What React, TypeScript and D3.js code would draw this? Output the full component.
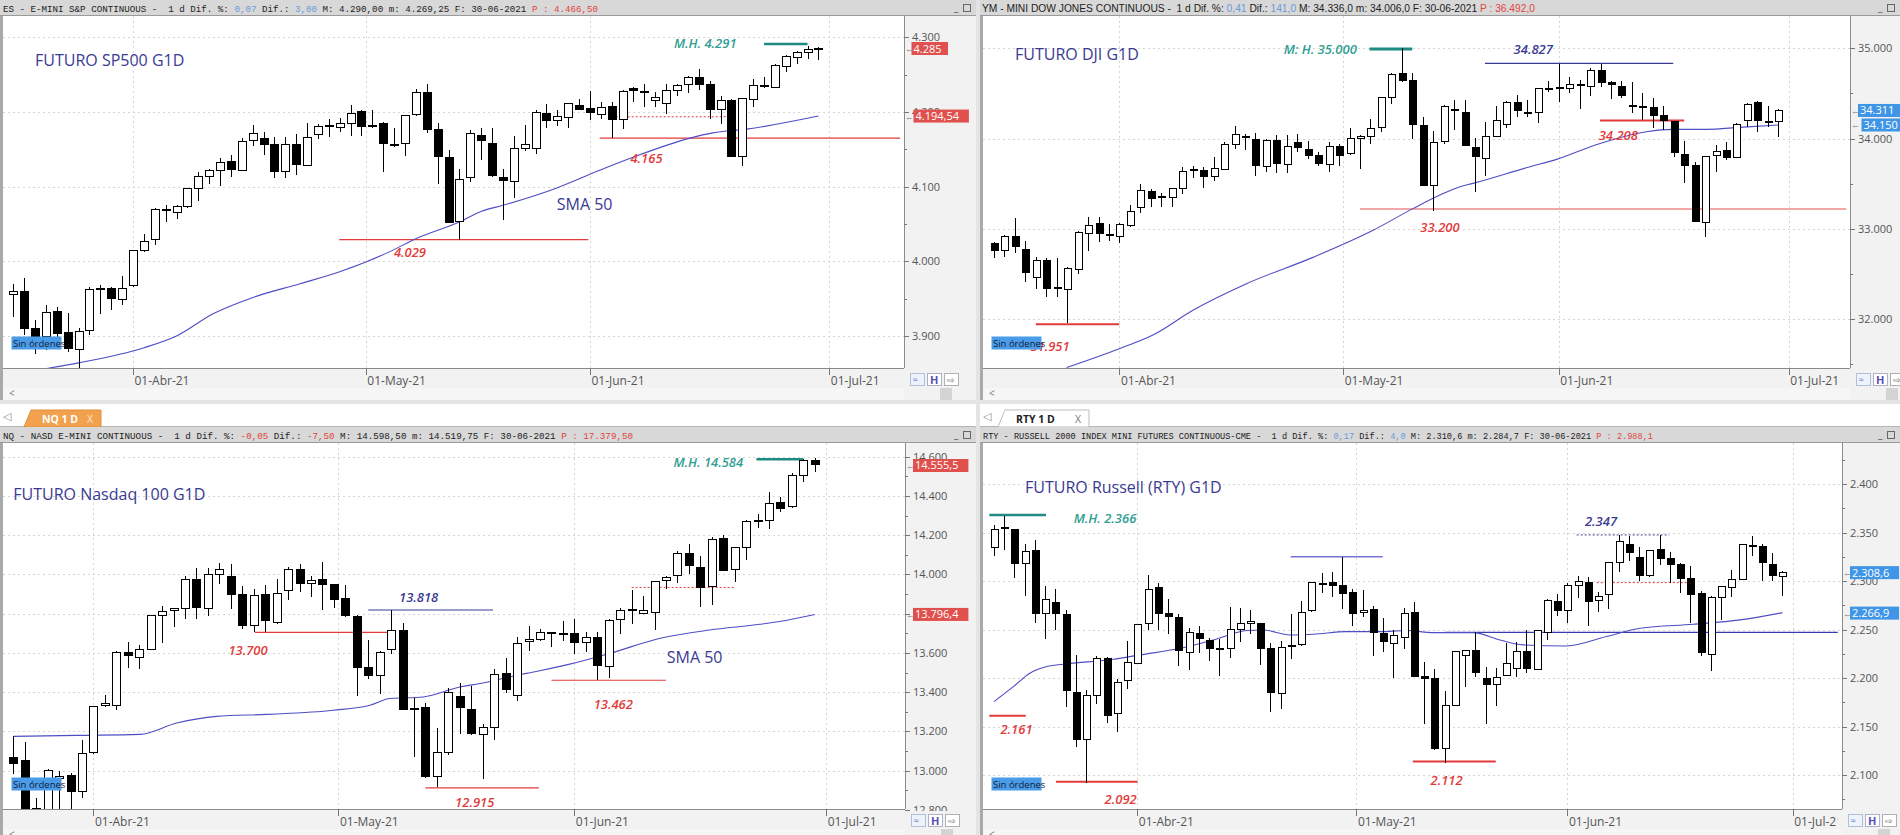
import React from "react";
import * as d3 from "d3";

// ---------------- DATA ----------------
const monthLabels = ["01-Abr-21", "01-May-21", "01-Jun-21", "01-Jul-21"];

// E-mini S&P 500 (ES)
const esOpen = [3956,3960,3910,3900,3933,3905,3882,3908,3962,3964,3949,3967,4014,4029,4069,4065,4073,4097,4113,4121,4134,4122,4162,4165,4156,4120,4157,4128,4170,4181,4179,4184,4200,4182,4184,4157,4158,4197,4226,4176,4139,4053,4112,4169,4158,4112,4107,4151,4151,4198,4188,4192,4209,4205,4197,4207,4190,4232,4227,4215,4212,4229,4237,4246,4237,4203,4215,4141,4217,4236,4233,4261,4273,4280,4284];
const esHigh = [3970,3978,3922,3942,3939,3931,3911,3966,3968,3966,3981,4015,4036,4071,4075,4075,4098,4119,4124,4138,4142,4165,4182,4173,4167,4166,4171,4185,4184,4191,4192,4209,4203,4202,4186,4179,4196,4231,4237,4185,4149,4123,4176,4178,4178,4123,4168,4182,4203,4211,4202,4211,4217,4228,4213,4214,4230,4233,4237,4227,4237,4238,4248,4258,4241,4221,4218,4219,4244,4247,4264,4276,4282,4289,4287];
const esLow = [3926,3901,3876,3881,3894,3879,3856,3901,3929,3935,3941,3966,4013,4022,4053,4057,4072,4081,4104,4101,4113,4121,4154,4142,4111,4112,4115,4127,4164,4167,4173,4168,4168,4179,4120,4153,4141,4194,4172,4104,4051,4029,4106,4136,4113,4056,4085,4148,4144,4179,4181,4178,4202,4189,4191,4165,4177,4214,4206,4207,4197,4221,4225,4229,4190,4184,4140,4127,4206,4232,4232,4253,4264,4271,4269];
const esClose = [3960,3910,3900,3931,3903,3883,3906,3962,3963,3950,3964,4014,4026,4069,4068,4074,4097,4113,4121,4133,4123,4161,4171,4157,4120,4156,4130,4166,4181,4181.5,4184,4198,4180,4181,4158,4156,4195,4226,4177,4140,4052,4110,4171,4162,4115,4108,4151,4157,4199,4189,4194,4211,4203,4199,4206,4190,4227,4229,4226,4220,4229,4235,4246,4237,4203,4215,4141,4218,4236,4234,4262,4274,4280,4284,4285];
const esMonthIdx = [11, 32.4, 53, 75];
const esSmaIdx = [2.5,5.97,11.95,15,18.4,22.1,26.35,30,34.9,36.8,41.05,43.05,45,49.9,53.9,56.9,62.2,64.3,67.4,74];
const esSmaVal = [3855,3864,3884,3900,3930,3952,3970,3986,4015,4029,4053,4067,4075,4098,4122,4139,4165,4172,4177,4194.5];

// Mini Dow (YM)
const ymOpen = [32838,32756,32912,32775,32461,32646,32354,32331,32553,32949,33059,32934,32912,33041,33237,33411,33359,33348,33448,33662,33643,33577,33662,33939,34017,33991,33688,33983,33717,33954,33880,33810,33717,33909,33836,34002,34020,34124,34456,34722,34648,34142,33477,33965,34320,34290,33902,33780,34020,34150,34401,34294,34290,34560,34567,34556,34597,34582,34759,34623,34582,34368,34357,34342,34253,34187,33828,33706,33071,33817,33865,33791,34198,34401,34190,34187];
const ymHigh = [32856,32930,33115,32867,32683,32671,32671,32579,32978,33133,33133,33052,33067,33263,33496,33440,33392,33455,33688,33699,33688,33791,33958,34139,34046,34065,33991,34039,34039,34046,33976,33854,33965,33939,34113,34039,34216,34464,34730,35000,34730,34235,34083,34371,34427,34427,34002,34187,34360,34416,34482,34427,34564,34637,34827,34685,34648,34778,34826,34641,34637,34623,34508,34453,34360,34198,33976,33743,33806,33928,33965,34176,34390,34416,34364,34323];
const ymLow = [32671,32683,32734,32413,32328,32246,32246,31951,32498,32756,32856,32867,32845,33022,33170,33237,33237,33237,33385,33558,33448,33533,33651,33884,33872,33588,33632,33614,33614,33847,33769,33699,33632,33695,33817,33662,33939,34076,34383,34623,33991,33477,33200,33939,34094,33917,33403,33588,34013,34113,34235,34235,34176,34519,34408,34501,34323,34475,34567,34434,34445,34286,34205,34113,34094,33798,33503,33071,32904,33632,33762,33780,34131,34068,34124,34013];
const ymClose = [32764,32912,32801,32516,32653,32339,32346,32561,32960,33041,32949,32926,33052,33189,33422,33337,33351,33448,33632,33654,33584,33669,33939,34050,34024,33699,33976,33725,33917,33898,33817,33725,33917,33817,34002,34028,34113,34456,34715,34641,34150,33484,33954,34353,34312,33928,33798,34020,34205,34401,34316,34286,34556,34553,34560,34601,34589,34759,34623,34601,34482,34360,34349,34260,34198,33843,33706,33078,33798,33854,33788,34161,34379,34205,34183,34311];
const ymMonthIdx = [12, 33.4, 54, 76];
const ymSmaIdx = [6.95,12.05,15.2,19.06,24.2,30.5,36.3,40.1,42.65,44.56,45.8,51.26,53.8,57.96,62.4,64.96,68.2,71.3,75];
const ymSmaVal = [31463,31674,31822,32099,32394,32683,32986,33226,33374,33466,33503,33688,33769,33946,34076,34102,34102,34124,34150];

// Nasdaq 100 (NQ)
const nqOpen = [13069,13052,12808,12780,12960,12975,12895,13091,13330,13334,13603,13577,13620,13789,13816,13825,13976,13825,14002,13990,13900,13739,13896,13756,13918,14027,13956,13973,13951,13879,13785,13524,13487,13618,13717,13318,13320,12970,13095,13380,13311,13185,13219,13495,13381,13657,13669,13702,13697,13697,13654,13678,13530,13773,13821,13802,13807,13970,13993,14109,14038,13939,14181,14024,14135,14276,14275,14368,14348,14505,14583];
const nqHigh = [13175,13146,12861,13010,12998,12987,13154,13330,13388,13611,13657,13640,13790,13840,13831,13990,14033,14033,14058,14053,13939,13927,13944,13976,14036,14053,13993,14063,13952,13947,13794,13666,13610,13818,13751,13371,13345,13219,13419,13448,13431,13240,13516,13572,13683,13738,13721,13709,13763,13772,13709,13705,13772,13828,13922,13888,13968,13990,14121,14155,14096,14189,14203,14138,14276,14310,14420,14396,14515,14587,14595];
const nqLow = [12984,12750,12770,12760,12780,12790,12861,13086,13325,13311,13524,13516,13618,13652,13734,13773,13773,13790,13952,13825,13722,13705,13709,13746,13871,13913,13883,13819,13828,13782,13381,13465,13393,13593,13311,13069,12964,12915,13078,13189,13180,12958,13154,13398,13356,13611,13663,13628,13663,13594,13606,13462,13473,13695,13748,13799,13717,13927,13959,14004,13833,13845,14016,13964,14072,14237,14232,14319,14339,14472,14524];
const nqClose = [13039,12780,12803,13000,12970,12895,13090,13328,13342,13603,13589,13620,13789,13811,13825,13976,13833,14002,14027,13900,13739,13891,13763,13905,14024,13956,13968,13947,13871,13789,13524,13487,13603,13714,13313,13315,12970,13091,13398,13320,13189,13219,13490,13415,13649,13671,13704,13698,13693,13654,13678,13535,13765,13819,13818,13814,13964,13985,14109,14045,13935,14177,14021,14135,14268,14273,14360,14336,14507,14583,14561];
const nqMonthIdx = [7, 28.4, 49, 71];
const nqSmaIdx = [0,5.54,11.07,14.27,17.76,22.13,27.95,31.15,32.9,35.8,39,40.76,43.1,44.8,48.6,52.1,56.5,60.8,65.2,66.9,70];
const nqSmaVal = [13175,13180,13185,13243,13277,13287,13308,13334,13368,13376,13427,13444,13475,13496,13543,13598,13675,13717,13746,13760,13796];

// Russell 2000 (RTY)
const rtyOpen = [2335,2355,2353,2318,2331,2267,2278,2265,2185,2137,2182,2220,2163,2197,2215,2256,2293,2266,2262,2226,2246,2239,2230.3,2230,2250,2256,2256,2230,2184,2232,2235,2270,2297.3,2298,2295,2288,2268,2271,2246,2236,2242,2268,2202,2199,2127,2172,2223,2228,2200,2193,2203,2210,2227,2209,2247,2279,2270,2295,2298,2280,2286,2319,2338,2324,2306,2332,2323,2317,2303,2287,2224,2283,2293,2302,2336.5,2336,2317,2305];
const rtyHigh = [2358,2367,2354,2338,2342,2295,2292,2270,2224,2188,2223,2222,2199,2238,2256,2306,2298,2281,2266,2252,2254,2241,2240,2273,2272,2270,2257,2236,2238,2266,2279,2299,2308,2309,2325,2292,2291,2274,2262,2250,2272,2278,2217,2209,2187,2227,2229,2247,2211,2210,2236,2237,2250,2250,2281,2287,2298,2305,2304,2289,2320,2347,2346,2335,2332,2347,2330,2319,2315,2290,2285,2294,2311,2338,2346,2338,2329,2310];
const rtyLow = [2326,2332,2303,2285,2257,2240,2250,2170,2129,2092,2173,2154,2144,2189,2214,2250,2250,2245,2212,2208,2226,2218,2202,2221,2237,2245,2213,2165,2168,2220,2233,2268,2288,2283,2271,2254,2263,2223,2227,2200,2230,2201,2153,2126,2112,2171,2191,2201,2153,2171,2202,2201,2205,2208,2239,2264,2257,2282,2254,2268,2271,2309,2321,2300,2304,2316,2298,2288,2257,2223,2207,2260,2284,2301,2326,2300,2300,2285];
const rtyClose = [2353,2354,2318,2330,2267,2281,2267,2187,2137,2182,2220,2161,2195,2216,2255,2291,2267,2263,2228,2247,2241,2230,2229.6,2250,2256,2258,2230,2185,2231,2234,2268,2298,2296.6,2295,2287,2267,2270,2247,2238,2244,2267,2202,2199,2127,2172,2227,2228,2206,2193,2201,2215,2227,2210,2249,2280,2270,2295,2299,2279,2284,2319,2341,2329,2306,2331,2323,2317,2303,2286,2226,2283,2294,2302,2338,2335.8,2319,2306,2309];
const rtyMonthIdx = [14, 35.4, 56, 78];
const rtySmaIdx = [0,1.89,3.5,5.15,7.1,11.65,14.26,18.2,21.4,24.7,26.3,28.9,31.2,34.4,37.7,40.3,42.9,46.8,49.4,51.7,55.9,59.8,63.1,68.3,72.85,77];
const rtySmaVal = [2175.7,2191.1,2204.9,2211.8,2214.5,2219.3,2223.8,2230.6,2239.2,2248.9,2249.5,2244.4,2245.1,2247.8,2247.8,2248.9,2246.8,2246.8,2239.2,2234.1,2233,2242.7,2251.3,2255.4,2259.9,2267.4];

// ---------------- STYLE CONSTANTS ----------------
const RED = "#e23b3b";
const TEAL = "#1e8c83";
const TEAL_T = "#2f9e93";
const NAVY = "#3a3a92";
const SMA_C = "#4d4dc6";
const DARK = "#222";
const HBLUE = "#6a9bd8";
const HRED = "#e0463f";
const FONT = "'Open Sans', 'Noto Sans', sans-serif";

const locale = d3.formatLocale({ decimal: ",", thousands: ".", grouping: [3], currency: ["", ""] });
const fmtInt = locale.format(",d");

type Level = { v: number; from: number; to: number; color: string; w: number; dash?: string };
type Note = { text: string; i: number; v: number; color: string; size: number; weight?: number; italic?: boolean; anchor?: string };
type Tag = { v: number; text: string; dx: number };

interface PanelDef {
  id: string;
  left: number; right: number; top: number; bottom: number;
  hasTab: boolean;
  headerTop: number; headerH: number;
  plotLeft: number; plotRight: number; plotTop: number; plotBottom: number;
  yCal: [number, number, number, number];
  x0: number; step: number; bw: number;
  open: number[]; high: number[]; low: number[]; close: number[];
  monthIdx: number[]; smaIdx: number[]; smaVal: number[];
  majorStep: number; minorStep: number; tickMin: number; tickMax: number;
  levels: Level[]; notes: Note[]; tags: Tag[]; tagColor: string;
  title: string; titleX: number; titleY: number;
  header: [string, string][]; headerMono: boolean; headerX: number; headerLen: number; headerSize: number;
  tab?: { label: string; active: boolean; x1: number; x2: number };
}

const TOP_Y = { top: 0, bottom: 400, headerTop: 0, headerH: 16, plotTop: 16, plotBottom: 368 };
const BOT_Y = { top: 404, bottom: 835, headerTop: 427, headerH: 16, plotTop: 443, plotBottom: 809 };

const panels: PanelDef[] = [
  {
    id: "es", left: 0, right: 976, ...TOP_Y, hasTab: false,
    plotLeft: 3, plotRight: 904,
    yCal: [3900, 336, 4300, 37.3], x0: 13.3, step: 10.88, bw: 8,
    open: esOpen, high: esHigh, low: esLow, close: esClose,
    monthIdx: esMonthIdx, smaIdx: esSmaIdx, smaVal: esSmaVal,
    majorStep: 100, minorStep: 50, tickMin: 3800, tickMax: 4400,
    levels: [
      { v: 4029, from: 29.96, to: 52.85, color: RED, w: 1.3 },
      { v: 4165, from: 53.9, to: 81.5, color: RED, w: 1.3 },
      { v: 4193.6, from: 55, to: 65.6, color: RED, w: 1, dash: "2,2" },
      { v: 4291, from: 69, to: 73, color: TEAL, w: 2.5 },
    ],
    notes: [
      { text: "4.029", i: 36.46, v: 4005.5, color: RED, size: 13, weight: 600, italic: true },
      { text: "4.165", i: 58.2, v: 4131.5, color: RED, size: 13, weight: 600, italic: true },
      { text: "M.H. 4.291", i: 63.6, v: 4285.7, color: TEAL_T, size: 13, weight: 600, italic: true },
      { text: "SMA 50", i: 49.95, v: 4068.5, color: NAVY, size: 16, anchor: "start" },
    ],
    tags: [{ v: 4285, text: "4.285", dx: 7.5 }, { v: 4194.54, text: "4.194,54", dx: 9.5 }],
    tagColor: "#e0504d",
    title: "FUTURO SP500 G1D", titleX: 35, titleY: 66,
    header: [["ES - E-MINI S&P CONTINUOUS -  1 d Dif. %: ", DARK], ["0,07", HBLUE], [" Dif.: ", DARK], ["3,00", HBLUE], [" M: 4.290,00 m: 4.269,25 F: 30-06-2021 ", DARK], ["P : 4.466,50", HRED]],
    headerMono: true, headerX: 3, headerLen: 595, headerSize: 9.3,
  },
  {
    id: "ym", left: 980, right: 1900, ...TOP_Y, hasTab: false,
    plotLeft: 983, plotRight: 1850,
    yCal: [32000, 319, 35000, 48.3], x0: 994, step: 10.457, bw: 7,
    open: ymOpen, high: ymHigh, low: ymLow, close: ymClose,
    monthIdx: ymMonthIdx, smaIdx: ymSmaIdx, smaVal: ymSmaVal,
    majorStep: 1000, minorStep: 500, tickMin: 31000, tickMax: 36000,
    levels: [
      { v: 34992, from: 35.9, to: 40, color: TEAL, w: 3 },
      { v: 34833, from: 46.95, to: 64.96, color: NAVY, w: 1.2 },
      { v: 34200, from: 57.95, to: 66, color: RED, w: 2 },
      { v: 33218, from: 35, to: 81.5, color: "#f08a8a", w: 1.5 },
      { v: 31943, from: 4, to: 11.98, color: RED, w: 2 },
    ],
    notes: [
      { text: "M: H. 35.000", i: 31.2, v: 34942, color: TEAL_T, size: 13, weight: 600, italic: true },
      { text: "34.827", i: 51.57, v: 34942, color: NAVY, size: 13, weight: 600, italic: true },
      { text: "34.208", i: 59.7, v: 33983, color: RED, size: 13, weight: 600, italic: true },
      { text: "33.200", i: 42.65, v: 32969, color: RED, size: 13, weight: 600, italic: true },
      { text: "31.951", i: 5.36, v: 31650, color: RED, size: 13, weight: 600, italic: true },
    ],
    tags: [{ v: 34311, text: "34.311", dx: 8 }, { v: 34150, text: "34.150", dx: 11.5 }],
    tagColor: "#3f95e6",
    title: "FUTURO DJI G1D", titleX: 1015, titleY: 60,
    header: [["YM - MINI DOW JONES CONTINUOUS -  1 d Dif. %: ", DARK], ["0,41", HBLUE], [" Dif.: ", DARK], ["141,0", HBLUE], [" M: 34.336,0 m: 34.006,0 F: 30-06-2021 ", DARK], ["P : 36.492,0", HRED]],
    headerMono: false, headerX: 982, headerLen: 553, headerSize: 10,
  },
  {
    id: "nq", left: 0, right: 976, ...BOT_Y, hasTab: true,
    plotLeft: 3, plotRight: 905,
    yCal: [13000, 770.7, 14400, 496], x0: 13.3, step: 11.45, bw: 8,
    open: nqOpen, high: nqHigh, low: nqLow, close: nqClose,
    monthIdx: nqMonthIdx, smaIdx: nqSmaIdx, smaVal: nqSmaVal,
    majorStep: 200, minorStep: 100, tickMin: 12600, tickMax: 14800,
    levels: [
      { v: 13705, from: 21.1, to: 33.05, color: RED, w: 1.2 },
      { v: 13819, from: 31, to: 41.9, color: NAVY, w: 1.2 },
      { v: 12912, from: 36, to: 45.9, color: RED, w: 1.2 },
      { v: 13461, from: 47, to: 57, color: RED, w: 1.2 },
      { v: 13934, from: 54, to: 63, color: RED, w: 1, dash: "2,2" },
      { v: 14587, from: 64.9, to: 69, color: TEAL, w: 2.5 },
    ],
    notes: [
      { text: "13.700", i: 20.5, v: 13589, color: RED, size: 13, weight: 600, italic: true },
      { text: "13.818", i: 35.4, v: 13858, color: NAVY, size: 13, weight: 600, italic: true },
      { text: "12.915", i: 40.3, v: 12817, color: RED, size: 13, weight: 600, italic: true },
      { text: "13.462", i: 52.4, v: 13313, color: RED, size: 13, weight: 600, italic: true },
      { text: "M.H. 14.584", i: 60.7, v: 14548, color: TEAL_T, size: 13, weight: 600, italic: true },
      { text: "SMA 50", i: 57.07, v: 13551, color: NAVY, size: 16, anchor: "start" },
    ],
    tags: [{ v: 14555.5, text: "14.555,5", dx: 8 }, { v: 13796.4, text: "13.796,4", dx: 8 }],
    tagColor: "#e0504d",
    title: "FUTURO Nasdaq 100 G1D", titleX: 13.3, titleY: 500,
    header: [["NQ - NASD E-MINI CONTINUOUS -  1 d Dif. %: ", DARK], ["-0,05", HRED], [" Dif.: ", DARK], ["-7,50", HRED], [" M: 14.598,50 m: 14.519,75 F: 30-06-2021 ", DARK], ["P : 17.379,50", HRED]],
    headerMono: true, headerX: 3, headerLen: 630, headerSize: 9.3,
    tab: { label: "NQ 1 D", active: true, x1: 24, x2: 101 },
  },
  {
    id: "rty", left: 980, right: 1900, ...BOT_Y, hasTab: true,
    plotLeft: 983, plotRight: 1842,
    yCal: [2100, 775, 2400, 484], x0: 994, step: 10.24, bw: 7,
    open: rtyOpen, high: rtyHigh, low: rtyLow, close: rtyClose,
    monthIdx: rtyMonthIdx, smaIdx: rtySmaIdx, smaVal: rtySmaVal,
    majorStep: 50, minorStep: 25, tickMin: 2050, tickMax: 2450,
    levels: [
      { v: 2368, from: -0.46, to: 5.08, color: TEAL, w: 2.5 },
      { v: 2161, from: -0.46, to: 3.1, color: RED, w: 2 },
      { v: 2093, from: 6.05, to: 14.03, color: RED, w: 2 },
      { v: 2113.8, from: 40.9, to: 49, color: RED, w: 2 },
      { v: 2325, from: 28.97, to: 37.96, color: "#7474d6", w: 1.5 },
      { v: 2347.5, from: 56.9, to: 65.95, color: "#404088", w: 1, dash: "2,2" },
      { v: 2298.3, from: 58.86, to: 67.65, color: RED, w: 1, dash: "2,2" },
      { v: 2247, from: 44.04, to: 82.4, color: "#3a3ab0", w: 1.3 },
    ],
    notes: [
      { text: "M.H. 2.366", i: 10.84, v: 2360.3, color: TEAL_T, size: 13, weight: 600, italic: true },
      { text: "2.161", i: 2.2, v: 2142.3, color: RED, size: 13, weight: 600, italic: true },
      { text: "2.092", i: 12.37, v: 2070.1, color: RED, size: 13, weight: 600, italic: true },
      { text: "2.112", i: 44.2, v: 2089.7, color: RED, size: 13, weight: 600, italic: true },
      { text: "2.347", i: 59.28, v: 2356.7, color: NAVY, size: 13, weight: 600, italic: true },
    ],
    tags: [{ v: 2308.6, text: "2.308,6", dx: 8 }, { v: 2266.9, text: "2.266,9", dx: 8 }],
    tagColor: "#3f95e6",
    title: "FUTURO Russell (RTY) G1D", titleX: 1025, titleY: 493,
    header: [["RTY - RUSSELL 2000 INDEX MINI FUTURES CONTINUOUS-CME -  1 d Dif. %: ", DARK], ["0,17", HBLUE], [" Dif.: ", DARK], ["4,0", HBLUE], [" M: 2.310,6 m: 2.284,7 F: 30-06-2021 ", DARK], ["P : 2.988,1", HRED]],
    headerMono: true, headerX: 983, headerLen: 670, headerSize: 9.3,
    tab: { label: "RTY 1 D", active: false, x1: 998, x2: 1089 },
  },
];

function Panel({ d }: { d: PanelDef }) {
  const y = d3.scaleLinear().domain([d.yCal[0], d.yCal[2]]).range([d.yCal[1], d.yCal[3]]);
  const n = d.open.length;
  const x = d3.scaleLinear().domain([0, n - 1]).range([d.x0, d.x0 + (n - 1) * d.step]);
  const clip = `clip-${d.id}`;
  const clipY = `clipy-${d.id}`;
  const clipX = `clipx-${d.id}`;
  const inRange = (v: number) => y(v) >= d.plotTop - 4 && y(v) <= d.plotBottom + 6;
  const majors = d3.range(d.tickMin, d.tickMax + 1, d.majorStep).filter(inRange);
  const minors = d3.range(d.tickMin, d.tickMax + 1, d.minorStep).filter(inRange);
  const smaPts = d.smaIdx.map((ix, k) => [ix, d.smaVal[k]] as [number, number]);
  const smaPath = d3.line<[number, number]>().x((p) => x(p[0])).y((p) => y(p[1])).curve(d3.curveMonotoneX)(smaPts) || "";
  const pw = d.plotRight - d.plotLeft;
  const ph = d.plotBottom - d.plotTop;
  const bw = d.bw;

  return (
    <g>
      <defs>
        <clipPath id={clip}><rect x={d.plotLeft} y={d.plotTop} width={pw} height={ph} /></clipPath>
        <clipPath id={clipY}><rect x={d.plotRight} y={d.plotTop} width={d.right - d.plotRight} height={ph + 2} /></clipPath>
        <clipPath id={clipX}><rect x={d.plotLeft} y={d.plotBottom} width={pw - 4} height={d.bottom - d.plotBottom} /></clipPath>
      </defs>
      {/* backgrounds */}
      <rect x={d.left} y={d.top} width={d.right - d.left} height={d.bottom - d.top} fill="#f2f2f2" />
      <rect x={d.plotLeft} y={d.plotTop} width={pw} height={ph} fill="#ffffff" />
      <rect x={d.left} y={d.headerTop} width={3} height={d.bottom - d.headerTop} fill="#a9a9a9" />
      {/* tab row */}
      {d.hasTab && d.tab && (
        <g>
          <rect x={d.left} y={d.top} width={d.right - d.left} height={d.headerTop - d.top} fill="#ffffff" />
          <line x1={d.left} x2={d.right} y1={d.headerTop - 0.5} y2={d.headerTop - 0.5} stroke="#b5b5b5" />
          <text x={d.left + 3} y={d.top + 16} fontSize={11} fill="#888" fontFamily={FONT}>◁</text>
          <polygon
            points={`${d.tab.x1},${d.headerTop} ${d.tab.x1 + 7},${d.top + 6} ${d.tab.x2},${d.top + 6} ${d.tab.x2},${d.headerTop}`}
            fill={d.tab.active ? "#f2a24e" : "#ffffff"} stroke={d.tab.active ? "#e08f3a" : "#bdbdbd"} />
          <text x={d.tab.x1 + 18} y={d.top + 18.5} fontSize={10.5} fontWeight={700} fill={d.tab.active ? "#ffffff" : "#222"} fontFamily={FONT}>{d.tab.label}</text>
          <text x={d.tab.x2 - 14} y={d.top + 18.5} fontSize={10.5} fill={d.tab.active ? "#ffe3c4" : "#777"} fontFamily={FONT}>X</text>
        </g>
      )}
      {/* header bar */}
      <rect x={d.left} y={d.headerTop} width={d.right - d.left} height={d.headerH} fill="#d8d8d8" />
      <line x1={d.left} x2={d.right} y1={d.headerTop + d.headerH - 0.5} y2={d.headerTop + d.headerH - 0.5} stroke="#9a9a9a" />
      <text x={d.headerX} y={d.headerTop + 11.5} fontSize={d.headerSize}
        fontFamily={d.headerMono ? "'Liberation Mono', 'DejaVu Sans Mono', monospace" : "'Liberation Sans', 'DejaVu Sans', sans-serif"}
        textLength={d.headerLen} lengthAdjust="spacingAndGlyphs" style={{ whiteSpace: "pre" }}>
        {d.header.map((s, k) => <tspan key={k} fill={s[1]}>{s[0]}</tspan>)}
      </text>
      <text x={d.right - 22} y={d.headerTop + 11} fontSize={10} fill="#555" fontFamily={FONT}>_</text>
      <rect x={d.right - 12.5} y={d.headerTop + 4.5} width={7} height={7} fill="none" stroke="#666" />

      {/* plot content */}
      <g clipPath={`url(#${clip})`}>
        {majors.map((v) => (
          <line key={"g" + v} x1={d.plotLeft} x2={d.plotRight} y1={Math.round(y(v)) + 0.5} y2={Math.round(y(v)) + 0.5}
            stroke="#d6d6d6" strokeDasharray="2,3" />
        ))}
        {d.monthIdx.map((m, k) => (
          <line key={"v" + k} x1={Math.round(x(m)) + 0.5} x2={Math.round(x(m)) + 0.5} y1={d.plotTop} y2={d.plotBottom}
            stroke="#d6d6d6" strokeDasharray="2,3" />
        ))}
        <text x={d.titleX} y={d.titleY} fontSize={16} fill={NAVY} fontFamily={FONT}>{d.title}</text>
        {d.levels.map((l, k) => (
          <line key={"l" + k} x1={x(l.from)} x2={x(l.to)} y1={y(l.v)} y2={y(l.v)} stroke={l.color} strokeWidth={l.w}
            strokeDasharray={l.dash} />
        ))}
        <path d={smaPath} fill="none" stroke={SMA_C} strokeWidth={1.1} />
        <g shapeRendering="crispEdges">
          {d.open.map((o, i) => {
            const c = d.close[i];
            const cx = Math.round(x(i)) + 0.5;
            const yo = y(o), yc = y(c);
            const top = Math.min(yo, yc);
            const h = Math.max(Math.abs(yo - yc), 1);
            const up = c >= o;
            return (
              <g key={i}>
                <line x1={cx} x2={cx} y1={y(d.high[i])} y2={y(d.low[i])} stroke="#000" />
                <rect x={cx - bw / 2} y={top} width={bw} height={h} fill={up ? "#fff" : "#000"} stroke="#000" />
              </g>
            );
          })}
        </g>
        {d.notes.map((t, k) => (
          <text key={"n" + k} x={x(t.i)} y={y(t.v)} fontSize={t.size} fill={t.color} fontWeight={t.weight || 400}
            fontStyle={t.italic ? "italic" : "normal"} textAnchor={t.anchor || "middle"} fontFamily={FONT}>{t.text}</text>
        ))}
        <rect x={d.left + 11.5} y={d.plotBottom - 31.5} width={50} height={13} fill="#4b9ce8" />
        <text x={d.left + 13} y={d.plotBottom - 21.5} fontSize={9.5} fill="#10203a" fontFamily={FONT}>Sin órdenes</text>
      </g>

      {/* y axis */}
      <line x1={d.plotRight + 0.5} x2={d.plotRight + 0.5} y1={d.plotTop} y2={d.plotBottom} stroke="#8a8a8a" />
      <g clipPath={`url(#${clipY})`}>
        {minors.map((v) => (
          <line key={"m" + v} x1={d.plotRight} x2={d.plotRight + 3} y1={Math.round(y(v)) + 0.5} y2={Math.round(y(v)) + 0.5} stroke="#777" />
        ))}
        {majors.map((v) => (
          <g key={"t" + v}>
            <line x1={d.plotRight} x2={d.plotRight + 5} y1={Math.round(y(v)) + 0.5} y2={Math.round(y(v)) + 0.5} stroke="#777" />
            <text x={d.plotRight + 8} y={y(v) + 4} fontSize={11} fill="#555" fontFamily={FONT}>{fmtInt(v)}</text>
          </g>
        ))}
        {d.tags.map((t, k) => {
          const w = t.text.length * 6.3 + 5;
          const ty = y(t.v);
          return (
            <g key={"tag" + k}>
              <text x={d.plotRight + 1} y={ty + 3.5} fontSize={9} fill="#777" fontFamily={FONT}>←</text>
              <rect x={d.plotRight + t.dx} y={ty - 6.5} width={w} height={13} fill={d.tagColor} />
              <text x={d.plotRight + t.dx + 2} y={ty + 4} fontSize={11} fill="#fff" fontFamily={FONT}>{t.text}</text>
            </g>
          );
        })}
      </g>

      {/* x axis */}
      <line x1={d.plotLeft} x2={d.plotRight} y1={d.plotBottom + 0.5} y2={d.plotBottom + 0.5} stroke="#8a8a8a" />
      <g clipPath={`url(#${clipX})`}>
        {d.monthIdx.map((m, k) => (
          <g key={"xt" + k}>
            <line x1={Math.round(x(m)) + 0.5} x2={Math.round(x(m)) + 0.5} y1={d.plotBottom} y2={d.plotBottom + 7} stroke="#777" />
            <text x={x(m) + 1.5} y={d.plotBottom + 17} fontSize={12} fill="#555" fontFamily={FONT}>{monthLabels[k]}</text>
          </g>
        ))}
      </g>
      <rect x={d.plotLeft} y={d.plotBottom + 20} width={pw} height={d.bottom - d.plotBottom - 20} fill="#f6f6f6" />
      <text x={d.left + 9} y={d.plotBottom + 29} fontSize={10} fill="#777" fontFamily={FONT}>&lt;</text>
      {/* icons */}
      <g>
        <rect x={d.plotRight + 6.5} y={d.plotBottom + 5.5} width={14} height={12} fill="#eef3fb" stroke="#b0c0d8" />
        <text x={d.plotRight + 8.5} y={d.plotBottom + 15} fontSize={9} fill="#5a7fc0" fontFamily={FONT}>≈</text>
        <rect x={d.plotRight + 23.5} y={d.plotBottom + 5.5} width={14} height={12} fill="#ffffff" stroke="#b0b0c8" />
        <text x={d.plotRight + 26} y={d.plotBottom + 15.5} fontSize={11} fontWeight={700} fill="#5a4fb0" fontFamily={FONT}>H</text>
        <rect x={d.plotRight + 40.5} y={d.plotBottom + 5.5} width={14} height={12} fill="#ffffff" stroke="#b0b0b0" />
        <text x={d.plotRight + 42.5} y={d.plotBottom + 15} fontSize={9} fill="#666" fontFamily={FONT}>⇨</text>
        <rect x={d.plotRight + 36} y={d.plotBottom + 20} width={12} height={d.bottom - d.plotBottom - 20} fill="#d4d4d4" />
      </g>
    </g>
  );
}

export default function App() {
  return (
    <div>
      <style>{`body{margin:0;background:#fff;}`}</style>
      <svg width={1900} height={835} viewBox="0 0 1900 835" style={{ display: "block" }}>
        <rect x={0} y={0} width={1900} height={835} fill="#e4e4e4" />
        {panels.map((p) => <Panel key={p.id} d={p} />)}
      </svg>
    </div>
  );
}
